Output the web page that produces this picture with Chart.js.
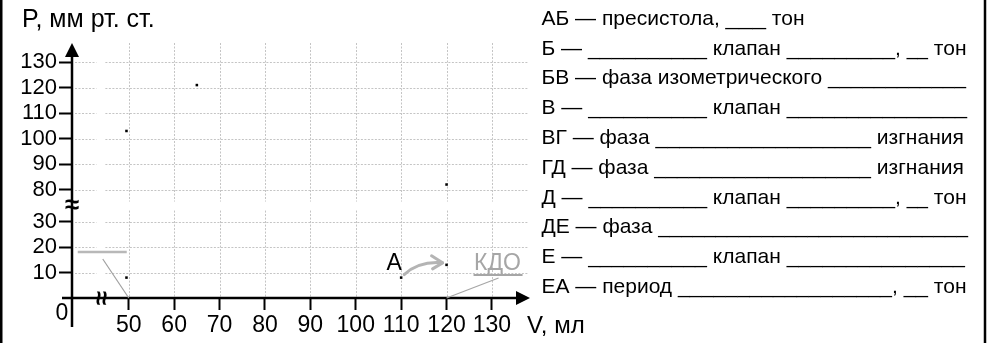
<!DOCTYPE html>
<html><head><meta charset="utf-8">
<script src="https://cdn.jsdelivr.net/npm/chart.js@4/dist/chart.umd.min.js"></script>
<style>html,body{margin:0;padding:0;background:#fff;overflow:hidden}canvas{display:block}</style>
</head><body>
<canvas id="c" width="996" height="343"></canvas>
<script>
// ---- data ----
const pointNames = ['Е', 'Д', 'Г', 'А', 'Б', 'В'];
const volumes    = [49.5, 49.5, 65, 110, 120, 120];   // V, мл
const pressures  = [8, 103, 121, 8, 13, 82];          // P, мм рт. ст.
const xTickLabels = [50, 60, 70, 80, 90, 100, 110, 120, 130];
const yTickLabels = [10, 20, 30, 80, 90, 100, 110, 120, 130];
const yAxisTitle = 'P, мм рт. ст.';
const xAxisTitle = 'V, мл';
// text parts; numbers = x where a blank (underscores) ends
const notes = [
  ['АБ — пресистола, ', 766, ' тон'],
  ['Б — ', 707, ' клапан ', 895, ', ', 928, ' тон'],
  ['БВ — фаза изометрического ', 966],
  ['В — ', 707, ' клапан ', 967],
  ['ВГ — фаза ', 871, ' изгнания'],
  ['ГД — фаза ', 871, ' изгнания'],
  ['Д — ', 707, ' клапан ', 895, ', ', 928, ' тон'],
  ['ДЕ — фаза ', 968],
  ['Е — ', 707, ' клапан ', 965],
  ['ЕА — период ', 892, ', ', 928, ' тон']
];

// broken axes: 0 .. (gap) .. 50..130 on V ; 0..30 (gap) 80..130 on P
const toUx = v => v <= 0 ? 0 : v - 37.5;
const toUy = p => p <= 30 ? p : p - 37.5;
const X_BREAK = 6.25, Y_BREAK = 36.25;

const FONT = '"Liberation Sans", Arial, sans-serif';
Chart.defaults.font.family = FONT;
Chart.defaults.font.size = 23;
Chart.defaults.color = '#000';

const worksheet = {
  id: 'worksheet',
  beforeDatasetsDraw(chart) {
    const {ctx, chartArea: a, scales: {x, y}} = chart;
    const xb = x.getPixelForValue(X_BREAK), yb = y.getPixelForValue(Y_BREAK);
    ctx.save();
    ctx.strokeStyle = '#c4c4c4'; ctx.lineWidth = 1; ctx.setLineDash([2, 1.5]);
    yTickLabels.forEach(p => {
      const py = Math.round(y.getPixelForValue(toUy(p))) + 0.5;
      ctx.beginPath();
      ctx.moveTo(a.left + 3, py); ctx.lineTo(xb - 4, py);
      ctx.moveTo(xb + 5, py); ctx.lineTo(a.right + 2, py);
      ctx.stroke();
    });
    xTickLabels.forEach(v => {
      const px = Math.round(x.getPixelForValue(toUx(v))) + 0.5;
      ctx.beginPath();
      ctx.moveTo(px, a.top); ctx.lineTo(px, yb - 4);
      ctx.moveTo(px, yb + 5); ctx.lineTo(px, a.bottom);
      ctx.stroke();
    });
    ctx.restore();
  },
  afterDraw(chart) {
    const {ctx, chartArea: a, scales: {x, y}} = chart;
    const H = chart.height;
    const x0 = x.getPixelForValue(0), y0 = y.getPixelForValue(0);
    const xb = x.getPixelForValue(X_BREAK), yb = y.getPixelForValue(Y_BREAK);
    const P = (v, p) => ({x: x.getPixelForValue(toUx(v)), y: y.getPixelForValue(toUy(p))});
    ctx.save();
    // axes
    ctx.strokeStyle = '#000'; ctx.fillStyle = '#000'; ctx.lineWidth = 2.5;
    ctx.beginPath();
    ctx.moveTo(x0, H - 16); ctx.lineTo(x0, a.top + 8);
    ctx.moveTo(x0 - 10, y0); ctx.lineTo(a.right, y0);
    ctx.stroke();
    ctx.beginPath();
    ctx.moveTo(x0, a.top); ctx.lineTo(x0 - 7, a.top + 14); ctx.lineTo(x0 + 7, a.top + 14); ctx.closePath(); ctx.fill();
    const tip = a.right + 4;
    ctx.beginPath();
    ctx.moveTo(tip, y0); ctx.lineTo(tip - 14, y0 - 7); ctx.lineTo(tip - 14, y0 + 7); ctx.closePath(); ctx.fill();
    // break marks
    ctx.font = 'bold 26px ' + FONT; ctx.textAlign = 'center'; ctx.textBaseline = 'middle';
    ctx.fillText('≈', x0, yb);
    ctx.save(); ctx.translate(xb, y0); ctx.rotate(Math.PI / 2); ctx.fillText('≈', 0, 0); ctx.restore();
    // origin label & axis titles
    ctx.font = '23px ' + FONT;
    ctx.fillText('0', x0 - 10, y0 + 16);
    ctx.textAlign = 'left';
    ctx.font = '25px ' + FONT;
    ctx.fillText(yAxisTitle, 22, 20);
    ctx.font = '24px ' + FONT;
    ctx.fillText(xAxisTitle, 527, 326);
    // annotations
    ctx.font = '23px ' + FONT;
    const pA = P(volumes[3], pressures[3]), pB = P(volumes[4], pressures[4]);
    ctx.textAlign = 'center';
    ctx.fillText(pointNames[3], pA.x - 7, pA.y - 14);
    ctx.strokeStyle = '#b4b4b4'; ctx.lineWidth = 3; ctx.lineCap = 'round'; ctx.lineJoin = 'round';
    const s = {x: pA.x + 3, y: pA.y - 3}, e = {x: pB.x - 4, y: pB.y - 2};
    ctx.beginPath(); ctx.moveTo(s.x, s.y); ctx.quadraticCurveTo(s.x + 15, e.y - 2, e.x, e.y); ctx.stroke();
    ctx.beginPath(); ctx.moveTo(e.x - 11, e.y - 7); ctx.lineTo(e.x, e.y); ctx.lineTo(e.x - 10, e.y + 6); ctx.stroke();
    // КДО
    const pk = P(120, 0);
    ctx.fillStyle = '#a6a6a6';
    ctx.fillText('КДО', pk.x + 51, pk.y - 34);
    ctx.lineCap = 'butt';
    ctx.strokeStyle = '#a6a6a6'; ctx.lineWidth = 2;
    ctx.beginPath(); ctx.moveTo(pk.x + 27, pk.y - 23); ctx.lineTo(pk.x + 76, pk.y - 23); ctx.stroke();
    ctx.lineWidth = 1.2;
    ctx.beginPath(); ctx.moveTo(pk.x + 52, pk.y - 20); ctx.lineTo(pk.x, pk.y); ctx.stroke();
    // empty slot (КСО)
    const ps = P(50, 0);
    ctx.strokeStyle = '#b8b8b8'; ctx.lineWidth = 2.5;
    ctx.beginPath(); ctx.moveTo(ps.x - 51, ps.y - 46); ctx.lineTo(ps.x - 2, ps.y - 46); ctx.stroke();
    ctx.strokeStyle = '#a0a0a0'; ctx.lineWidth = 1.2;
    ctx.beginPath(); ctx.moveTo(ps.x - 26, ps.y - 39); ctx.lineTo(ps.x, ps.y); ctx.stroke();
    // notes on the right
    ctx.fillStyle = '#000'; ctx.textAlign = 'left'; ctx.textBaseline = 'middle';
    ctx.font = '21px ' + FONT;
    const uw = ctx.measureText('_').width;
    notes.forEach((parts, i) => {
      let cx = 541.5; const cy = 19 + i * 29.8;
      parts.forEach(part => {
        if (typeof part === 'string') {
          ctx.fillText(part, cx, cy); cx += ctx.measureText(part).width;
        } else {
          const w = Math.max(uw, part - cx);
          const n = Math.max(1, Math.round(w / uw));
          const str = '_'.repeat(n);
          const sw = ctx.measureText(str).width;
          ctx.save(); ctx.translate(cx, cy); ctx.scale(w / sw, 1); ctx.fillText(str, 0, 0); ctx.restore();
          cx += w;
        }
      });
    });
    // frame
    ctx.strokeStyle = '#000'; ctx.lineWidth = 2.5;
    ctx.beginPath(); ctx.moveTo(1.25, 0); ctx.lineTo(1.25, H); ctx.moveTo(985, 0); ctx.lineTo(985, H); ctx.stroke();
    ctx.restore();
  }
};

new Chart(document.getElementById('c'), {
  type: 'scatter',
  data: {
    datasets: [{
      data: volumes.map((v, i) => ({x: toUx(v), y: toUy(pressures[i])})),
      pointStyle: 'rect', pointRadius: 1.8, backgroundColor: '#000', borderWidth: 0
    }]
  },
  options: {
    responsive: false, animation: false, devicePixelRatio: 1,
    layout: {padding: {top: 43, right: 470, left: 0, bottom: 0}},
    plugins: {legend: {display: false}, tooltip: {enabled: false}},
    scales: {
      x: {
        type: 'linear', min: 0, max: 100,
        afterBuildTicks: s => { s.ticks = xTickLabels.map(v => ({value: toUx(v)})); },
        afterFit: s => { s.height = 45; },
        ticks: {callback: (v, i) => String(xTickLabels[i]), autoSkip: false, maxRotation: 0, padding: 2, color: '#000'},
        grid: {drawOnChartArea: false, drawTicks: true, tickLength: 12, tickColor: '#000', tickWidth: 2},
        border: {display: false}
      },
      y: {
        type: 'linear', min: 0, max: 100,
        afterBuildTicks: s => { s.ticks = yTickLabels.map(p => ({value: toUy(p)})); },
        afterFit: s => { s.width = 72; },
        ticks: {callback: (v, i) => String(yTickLabels[i]), autoSkip: false, padding: 2, color: '#000', font: {size: 22}},
        grid: {drawOnChartArea: false, drawTicks: true, tickLength: 13, tickColor: '#000', tickWidth: 2},
        border: {display: false}
      }
    }
  },
  plugins: [worksheet]
});
</script>
</body></html>
